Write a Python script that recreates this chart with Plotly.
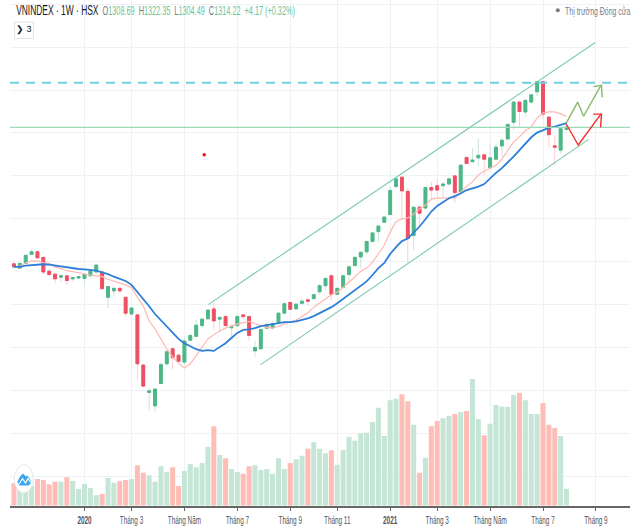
import plotly.graph_objects as go

week = list(range(95))
open_ = [995,985,996,1017,1023,1010,978,971,964,967,960,962,961,967,976,976,917,932,938,917,
         878,876,759,695,664,716,762,797,782,766,817,826,851,867,890,866,872,846,851,876,
         872,792,797,845,846,859,880,905,890,903,911,914,930,944,967,924,940,970,991,1011,
         1023,1047,1070,1092,1110,1175,1197,1164,1061,1127,1125,1173,1177,1177,1181,1200,1163,1243,1233,1242,
         1249,1219,1239,1270,1286,1325,1372,1349,1372,1396,1420,1337,1270,1260,1308.69]
high_ = [998,998,1016,1029,1026,1012,984,973,971,970,964,968,973,981,995,979,943,940,939,918,
         895,878,762,706,705,765,794,800,786,825,831,864,870,890,904,873,878,855,878,878,
         874,815,845,859,862,882,905,908,903,914,917,926,948,964,971,939,970,990,1013,1025,
         1049,1070,1085,1107,1175,1198,1198,1172,1128,1132,1175,1186,1195,1186,1198,1202,1227,1245,1265,1286,
         1251,1274,1276,1288,1323,1374,1374,1379,1391,1421,1421,1338,1295,1312,1322.35]
low_ = [985,984,995,1016,1008,970,965,950,953,946,954,959,946,965,973,936,892,918,926,872,
        874,723,707,653,650,715,758,749,765,758,816,824,847,864,841,836,847,822,848,866,
        816,778,794,843,841,855,878,887,889,900,897,911,923,934,909,922,938,950,988,985,
        1016,1044,1044,1091,1109,1173,1097,996,1027,1082,1124,1146,1153,1148,1179,1137,1160,1228,1232,1223,
        1202,1214,1237,1246,1284,1307,1312,1337,1369,1386,1333,1265,1224,1251,1304.49]
close_ = [988,996,1015,1023,1009,976,970,960,967,956,963,965,970,978,992,937,942,938,932,880,
          892,762,710,699,703,760,790,776,768,815,828,852,866,887,862,870,851,849,872,872,
          828,800,842,853,855,880,902,889,901,908,908,923,944,961,924,938,967,988,1010,1022,
          1047,1067,1083,1104,1166,1193,1165,1054,1127,1113,1173,1167,1167,1181,1193,1161,1225,1229,1237,1248,
          1239,1242,1267,1283,1320,1372,1350,1376,1389,1420,1344,1296,1267,1310,1314.22]
ma_fast = [988,990,997,1002,1002,998,996,988,984,979,977,974,971,969,967,965,959,954,950,946,
           940,917,897,862,843,820,796,778,763,752,762,781,800,820,830,839,845,850,855,858,
           861,856,851,847,845,849,855,860,864,872,881,894,904,914,923,929,940,952,965,978,
           985,999,1018,1039,1069,1093,1100,1102,1111,1123,1132,1146,1148,1149,1149,1148,1163,1176,1186,1202,
           1211,1218,1225,1239,1258,1279,1291,1305,1314,1335,1347,1349,1349,1345,1338]
ma_slow = [988,988,991,992,993,994,993,991,988,986,985,983,982,981,979,975,971,965,960,955,
           946,930,913,896,878,863,849,834,820,810,803,796,792,794,792,800,810,822,834,841,
           842,845,850,852,855,857,859,859,861,864,868,873,880,887,894,903,913,923,934,944,
           954,969,985,997,1018,1034,1048,1054,1067,1082,1099,1117,1130,1140,1148,1153,1159,1167,1171,1175,
           1181,1195,1207,1218,1231,1245,1260,1276,1290,1301,1307,1312,1315,1319,1323]
volume = [67,55,57,60,80,77,64,72,72,85,74,50,65,53,31,35,83,69,73,77,
          80,121,99,91,72,118,101,115,59,104,125,115,128,176,238,152,142,110,101,96,
          118,121,107,110,96,142,110,128,139,150,171,190,171,157,166,123,168,206,195,217,
          219,251,294,209,316,321,334,313,243,99,144,238,254,262,270,275,281,284,380,260,
          211,246,302,297,297,332,338,316,275,275,308,243,233,209,51]

tick_weeks = [12,20,29,38,47,55,64,72,81,90,99]
tick_labels = ["<b>2020</b>","Tháng 3","Tháng Năm","Tháng 7","Tháng 9","Tháng 11",
               "<b>2021</b>","Tháng 3","Tháng Năm","Tháng 7","Tháng 9"]

upper_x, upper_y = [33.06, 98.9], [900, 1511]
lower_x, lower_y = [41.97, 97.76], [760, 1285]
green_x = [93.95, 95.9, 96.9, 99.85, None, 98.55, 99.95, 100.07]
green_y = [1323, 1372, 1339, 1411, None, 1408, 1411, 1383]
red_x = [93.95, 96.0, 99.85, None, 98.55, 99.95, 99.8]
red_y = [1321, 1272, 1344, None, 1344, 1344, 1313]
resistance = 1417
support = 1313
dot_x, dot_y = [32.37], [1249]

W, H = 640, 528
X0, X1 = -0.672, 104.8
BASE = 505.7
FONT = "Liberation Sans, Arial"
UP, DOWN = "#4cb787", "#ee4f63"
UP_W, DOWN_W = "#c9e6da", "#fcd0d0"
UP_V, DOWN_V = "#c5e6d7", "#ffbdb8"


def px(x):
    return x / W


def py(y):
    return 1 - y / H


fig = go.Figure()
fig.add_trace(go.Candlestick(
    x=week, open=open_, high=high_, low=low_, close=close_, whiskerwidth=0,
    increasing=dict(line=dict(color=UP_W, width=1), fillcolor=UP_W),
    decreasing=dict(line=dict(color=DOWN_W, width=1), fillcolor=DOWN_W),
))
fig.add_trace(go.Scatter(x=week, y=ma_fast, mode="lines", line=dict(color="#ffb8b0", width=1.2)))
fig.add_trace(go.Candlestick(
    x=week, open=open_, close=close_,
    high=[max(o, c) for o, c in zip(open_, close_)],
    low=[min(o, c) for o, c in zip(open_, close_)],
    whiskerwidth=0,
    increasing=dict(line=dict(color=UP, width=1), fillcolor=UP),
    decreasing=dict(line=dict(color=DOWN, width=1), fillcolor=DOWN),
))
fig.add_trace(go.Scatter(x=week, y=ma_slow, mode="lines", line=dict(color="#2d7fd8", width=1.8)))
fig.add_trace(go.Scatter(x=[X0, X1], y=[resistance, resistance], mode="lines",
                         line=dict(color="#72d0de", width=2, dash="9px,7px")))
fig.add_trace(go.Scatter(x=[X0, X1], y=[support, support], mode="lines",
                         line=dict(color="#98dcb8", width=1.2)))
fig.add_trace(go.Scatter(x=upper_x, y=upper_y, mode="lines", line=dict(color="#7cc9b2", width=1.1)))
fig.add_trace(go.Scatter(x=lower_x, y=lower_y, mode="lines", line=dict(color="#7cc9b2", width=1.1)))
fig.add_trace(go.Scatter(x=green_x, y=green_y, mode="lines", line=dict(color="#8bb86c", width=1.4)))
fig.add_trace(go.Scatter(x=red_x, y=red_y, mode="lines", line=dict(color="#fb2a2a", width=1.4)))
fig.add_trace(go.Scatter(x=dot_x, y=dot_y, mode="markers", marker=dict(color="#f01010", size=3.5)))
fig.add_trace(go.Bar(
    x=week, y=volume, yaxis="y2", width=0.86,
    marker=dict(color=[UP_V if c >= o else DOWN_V for o, c in zip(open_, close_)], line_width=0),
))

header = ('<span style="color:#131722;font-size:15px">VNINDEX · 1W · HSX</span>'
          '&nbsp;&nbsp;<span style="color:#787b86">O</span><span style="color:#6cc49a">1308.69</span>'
          '&nbsp;&nbsp;<span style="color:#787b86">H</span><span style="color:#6cc49a">1322.35</span>'
          '&nbsp;&nbsp;<span style="color:#787b86">L</span><span style="color:#6cc49a">1304.49</span>'
          '&nbsp;&nbsp;<span style="color:#787b86">C</span><span style="color:#6cc49a">1314.22</span>'
          '&nbsp;&nbsp;<span style="color:#6cc49a">+4.17 (+0.32%)</span>')

annotations = [
    dict(x=px(14), y=py(10), xref="paper", yref="paper", xanchor="left", yanchor="middle",
         text=header, showarrow=False, font=dict(family=FONT, size=13, color="#131722")),
    dict(x=px(563), y=py(10.5), xref="paper", yref="paper", xanchor="left", yanchor="middle",
         text="Thị trường Đóng cửa", showarrow=False, font=dict(family=FONT, size=11, color="#787b86")),
    dict(x=px(23.5), y=py(30), xref="paper", yref="paper", xanchor="center", yanchor="middle",
         text="❯ 3", showarrow=False, font=dict(family=FONT, size=9, color="#131722")),
]

logo_body = [(17.3, 482), (20, 476.5), (23, 473.5), (26, 476.5), (27.5, 475.5), (30.5, 480),
             (30.5, 484), (28, 485.5), (19.5, 485.5)]
logo_zig = [(19, 484), (22.5, 478.5), (25.5, 483), (28, 478.5), (30, 482)]


def path(points, close):
    d = " ".join(("M" if k == 0 else "L") + f" {px(a)} {py(b)}" for k, (a, b) in enumerate(points))
    return d + (" Z" if close else "")


shapes = [
    dict(type="rect", xref="paper", yref="paper", x0=px(14.5), x1=px(33.5), y0=py(22), y1=py(38.5),
         line=dict(color="#e0e3eb", width=1), fillcolor="white"),
    dict(type="circle", xref="paper", yref="paper", x0=px(555.8), x1=px(559.8), y0=py(8.3), y1=py(12.3),
         line_width=0, fillcolor="#787b86"),
    dict(type="circle", xref="paper", yref="paper", x0=px(14.3), x1=px(33.3), y0=py(464.8), y1=py(493),
         line=dict(color="#e4e7ee", width=1), fillcolor="white"),
    dict(type="path", xref="paper", yref="paper", fillcolor="#3aa5ef", line_width=0,
         path=path(logo_body, True)),
    dict(type="path", xref="paper", yref="paper", line=dict(color="white", width=1.2),
         path=path(logo_zig, False)),
]

fig.update_layout(
    width=W, height=H, margin=dict(l=0, r=0, t=0, b=0),
    paper_bgcolor="white", plot_bgcolor="white", showlegend=False, hovermode=False,
    font=dict(family=FONT, color="#50535e", size=10), annotations=annotations, shapes=shapes,
    xaxis=dict(domain=[px(10), px(630)], range=[X0, X1], rangeslider=dict(visible=False),
               tickmode="array", tickvals=tick_weeks, ticktext=tick_labels, showgrid=True,
               gridcolor="#eef2f7", gridwidth=1, zeroline=False, showline=True, linecolor="#666666",
               linewidth=2, ticks="outside", ticklen=3, tickcolor="#666666",
               tickfont=dict(family=FONT, size=11, color="#50535e")),
    yaxis=dict(domain=[py(BASE), 1], range=[431.2, 1610], tick0=0, dtick=100, showgrid=True,
               gridcolor="#eef2f7", gridwidth=1, showticklabels=False, zeroline=False, ticks=""),
    yaxis2=dict(domain=[py(BASE), 1], range=[0, 1517], overlaying="y", side="right", showgrid=False,
                showticklabels=False, zeroline=False, ticks=""),
)

post = """
document.body.style.margin='0';document.body.style.overflow='hidden';
var gd=document.querySelector('.plotly-graph-div');
function squeeze(el,s,left){var b=el.getBBox();var c=left?b.x:b.x+b.width/2;
  var t=el.getAttribute('transform')||'';
  el.setAttribute('transform',t+' translate('+c+',0) scale('+s+',1) translate('+(-c)+',0)');}
gd.querySelectorAll('.xtick text').forEach(function(e){squeeze(e,0.58,false);});
var a=gd.querySelectorAll('.annotation-text');
squeeze(a[0],279/a[0].getBBox().width,true);
squeeze(a[1],66/a[1].getBBox().width,true);
"""
fig.write_html("out.html", config={"displayModeBar": False}, post_script=post)
